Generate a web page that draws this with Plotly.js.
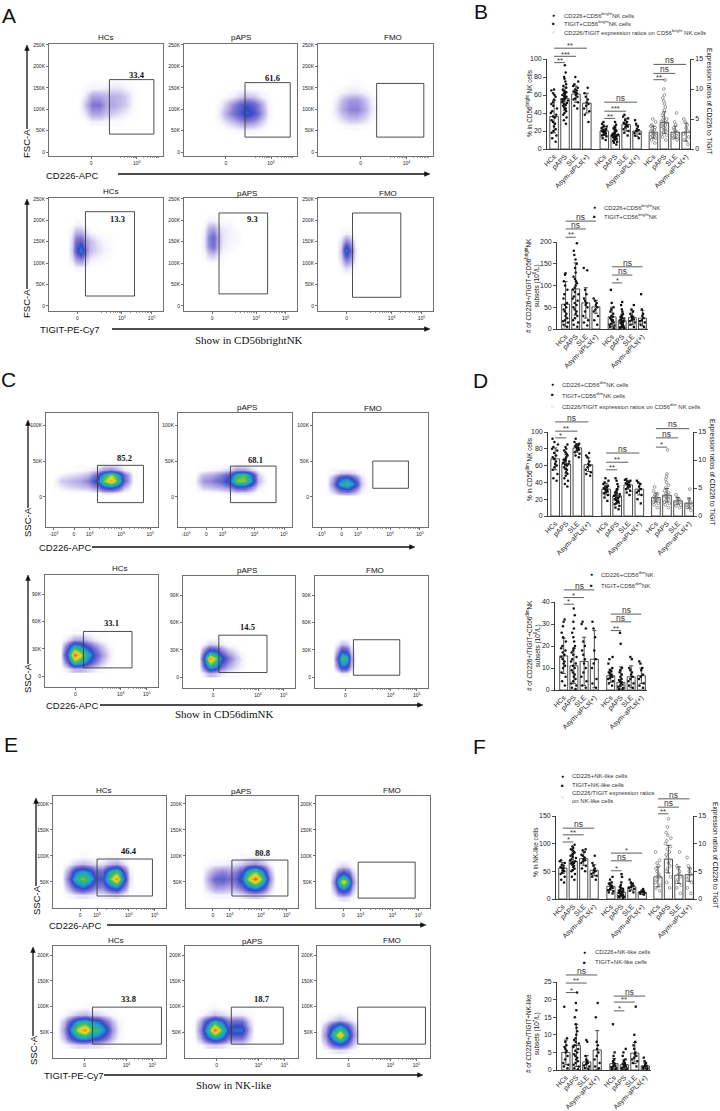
<!DOCTYPE html>
<html><head><meta charset="utf-8">
<script src="https://cdn.plot.ly/plotly-3.0.1.min.js"></script>
<style>html,body{margin:0;padding:0;background:#fff}#chart{width:720px;height:1111px}</style>
</head><body><div id="chart"></div>
<script>
// ===================== DATA =====================
const CAT = ['HCs','pAPS','SLE','Asym-aPLs(+)'];

// ---- Flow plots: density grids (x in display %, y in scatter units), gate [x0,x1,y0,y1], gate %
const A1_x=[26,32,38,44,50,56,62,68,74,80];
const A1_y=[70000,90000,110000,130000,150000,170000];
const A1_z=[[0,0,0.3,0.3,0.2,0.1,0.1,0,0,0],[0,0.5,1.5,1.5,1,0.8,0.6,0.3,0.1,0],[0,1,2.5,2.5,1.5,1.5,1.2,0.8,0.2,0],[0,0.5,1.5,1.5,1.2,1.3,1.2,0.8,0.2,0],[0,0.1,0.3,0.3,0.4,0.5,0.5,0.3,0.1,0],[0,0,0,0,0,0.1,0.1,0,0,0]];
const A1_gate=[53,92,42000,169000]; const A1_pct='33.4';

const A2_x=[26,32,38,44,50,56,62,68,74,80];
const A2_y=[50000,70000,90000,110000,130000,150000];
const A2_z=[[0,0,0,0.1,0.2,0.2,0.2,0.1,0,0],[0,0.2,0.6,1,1.5,1.8,1.5,0.8,0.2,0],[0,0.5,1.5,2.5,3.5,4.5,3.5,1.8,0.4,0],[0,0.3,1,2,3,3.5,2.8,1.5,0.3,0],[0,0,0.2,0.4,0.8,1,0.8,0.4,0.1,0],[0,0,0,0,0.1,0.1,0.1,0,0,0]];
const A2_gate=[54,94,35000,162000]; const A2_pct='61.6';

const A3_x=[10,16,22,28,34,40,46,52,58];
const A3_y=[60000,80000,100000,120000,140000,160000];
const A3_z=[[0,0,0.1,0.2,0.2,0.1,0,0,0],[0,0.3,0.8,1.2,1.2,0.8,0.3,0,0],[0,0.6,1.5,2.2,2.2,1.5,0.5,0.1,0],[0,0.4,1.2,1.8,1.8,1.2,0.4,0,0],[0,0.1,0.3,0.5,0.5,0.3,0.1,0,0],[0,0,0,0.1,0.1,0,0,0,0]];
const A3_gate=[51,92,35000,160000]; const A3_pct='';

const A4_x=[16,20,24,28,32,36,42,48,54,60];
const A4_y=[90000,110000,130000,150000,170000,190000,210000];
const A4_z=[[0,0,0.2,0.2,0.1,0,0,0,0,0],[0,0.5,1.5,2,1,0.4,0.2,0.1,0,0],[0,0.8,3,5,2,1,0.6,0.3,0.1,0],[0,0.7,2.5,3,1.5,1,0.5,0.2,0.1,0],[0,0.4,1.2,1.2,0.6,0.3,0.1,0,0,0],[0,0.1,0.3,0.3,0.1,0,0,0,0,0],[0,0,0,0,0,0,0,0,0,0]];
const A4_gate=[32,75,23000,220000]; const A4_pct='13.3';

const A5_x=[14,18,22,26,30,34,40,46,52];
const A5_y=[100000,120000,140000,160000,180000,200000,220000];
const A5_z=[[0,0,0,0.1,0.1,0,0,0,0],[0,0.2,0.8,1,0.5,0.2,0,0,0],[0,0.5,1.8,2.5,1.2,0.4,0.2,0.1,0],[0,0.5,2,2.8,1.3,0.5,0.3,0.2,0],[0,0.3,1.2,1.5,0.8,0.4,0.3,0.1,0],[0,0,0.3,0.3,0.2,0.1,0.1,0,0],[0,0,0,0,0,0,0,0,0]];
const A5_gate=[31,74,28000,217000]; const A5_pct='9.3';

const A6_x=[16,20,24,28,32,36];
const A6_y=[70000,90000,110000,130000,150000,170000,190000];
const A6_z=[[0,0,0,0,0,0],[0,0.2,0.6,0.4,0.1,0],[0,0.6,2,1.5,0.3,0],[0,0.8,4.5,2.5,0.4,0],[0,0.5,1.8,1.2,0.2,0],[0,0.1,0.3,0.2,0,0],[0,0,0,0,0,0]];
const A6_gate=[30,72,20000,217000]; const A6_pct='';

const C1_x=[6,14,22,30,38,46,52,58,64,70,78];
const C1_y=[6000,14000,22000,30000,38000,46000];
const C1_z=[[0,0,0,0,0,0.1,0.3,0.3,0.2,0,0],[0,0.3,0.5,0.6,0.8,1.5,3,3.5,2.5,0.8,0],[0,0.6,0.8,1,1.5,3,6.5,8.5,6,2,0.1],[0,0.2,0.4,0.5,0.8,2,5,7,5,1.8,0.1],[0,0,0,0.1,0.2,0.5,1.2,1.5,1,0.3,0],[0,0,0,0,0,0,0.1,0.1,0.1,0,0]];
const C1_gate=[46,87,-8000,44000]; const C1_pct='85.2';

const C2_x=[6,14,22,30,38,46,52,58,64,70,78];
const C2_y=[6000,14000,22000,30000,38000,46000];
const C2_z=[[0,0,0,0,0.1,0.2,0.3,0.3,0.2,0,0],[0,0,0.6,0.8,1,1.5,2.5,2.5,1.5,0.3,0],[0,0.1,1.2,1.5,2,3.5,6.5,6.5,4,0.8,0],[0,0,0.8,1,1.5,2.5,5.5,6,3.5,0.6,0],[0,0,0.1,0.2,0.3,0.6,1.2,1.2,0.6,0.1,0],[0,0,0,0,0,0,0.1,0.1,0,0,0]];
const C2_gate=[46,86,-8000,43000]; const C2_pct='68.1';

const C3_x=[12,18,24,30,36,42,48];
const C3_y=[2000,10000,18000,26000,34000,42000];
const C3_z=[[0,0,0.1,0.1,0.1,0,0],[0,0.8,2,2.5,1.5,0.3,0],[0,1.5,4.5,5.5,3.5,0.6,0],[0,1,3,3.5,2,0.4,0],[0,0.2,0.5,0.6,0.4,0.1,0],[0,0,0,0,0,0,0]];
const C3_gate=[52,83,12000,50000]; const C3_pct='';

const C4_x=[14,20,26,32,38,44,50,56,62];
const C4_y=[8000,16000,24000,32000,40000,48000];
const C4_z=[[0,0.3,0.8,0.8,0.5,0.3,0.1,0,0],[0,2,6,5,3,1.8,0.8,0.2,0],[0,3.5,9.5,7,4.5,2.5,1.2,0.4,0],[0,2,5,4,2.5,1.5,0.7,0.2,0],[0,0.4,1,1,0.6,0.3,0.1,0,0],[0,0,0.1,0.1,0.1,0,0,0,0]];
const C4_gate=[34,77,9000,49000]; const C4_pct='33.1';

const C5_x=[14,19,24,29,34,40,46,52,58];
const C5_y=[4000,12000,20000,28000,36000,44000];
const C5_z=[[0,0.3,0.8,0.6,0.3,0.1,0.1,0,0],[0,2,5,4,2,1,0.5,0.2,0],[0,3,9,6.5,3.5,1.8,0.8,0.3,0],[0,1.5,3.5,3,1.8,0.8,0.4,0.1,0],[0,0.2,0.6,0.5,0.3,0.1,0,0,0],[0,0,0,0,0,0,0,0,0]];
const C5_gate=[32,75,5000,46000]; const C5_pct='14.5';

const C6_x=[16,20,24,28,32,36];
const C6_y=[4000,12000,20000,28000,36000,44000];
const C6_z=[[0,0,0.2,0.2,0,0],[0,1.5,3.5,3,0.8,0],[0,2.5,6,5,1.2,0],[0,1.2,3,2.5,0.6,0],[0,0.3,0.8,0.6,0.2,0],[0,0,0,0,0,0]];
const C6_gate=[34,75,2000,41000]; const C6_pct='';

const E1_x=[8,14,20,26,32,38,44,50,56,62,68];
const E1_y=[25000,40000,55000,70000,85000,100000];
const E1_z=[[0,0.1,0.3,0.4,0.3,0.2,0.2,0.3,0.4,0.2,0],[0,1,2.5,3.5,2.5,1.5,1.5,3,4,2,0.2],[0,1.8,5,6.5,5,2.5,2.5,6,9,4,0.3],[0,1.2,3.5,4.5,3.5,2,2,4.5,6,3,0.2],[0,0.2,0.6,0.8,0.6,0.4,0.4,0.8,1,0.5,0],[0,0,0,0.1,0.1,0,0,0.1,0.1,0,0]];
const E1_gate=[39,88,23000,94000]; const E1_pct='46.4';

const E2_x=[14,20,26,32,38,44,50,56,62,68,74,80];
const E2_y=[25000,40000,55000,70000,85000,100000];
const E2_z=[[0,0.1,0.2,0.2,0.2,0.2,0.3,0.5,0.6,0.4,0.1,0],[0,0.6,1.2,1.2,1,1.2,2,3.5,4.5,3,0.8,0],[0,1,2,2.2,1.8,2,3.5,7,9.5,6,1.5,0],[0,0.6,1.2,1.5,1.2,1.5,2.5,5,6.5,4,1,0],[0,0.1,0.2,0.2,0.3,0.4,0.6,1,1.2,0.8,0.2,0],[0,0,0,0,0,0,0.1,0.1,0.2,0.1,0,0]];
const E2_gate=[41,91,23000,92000]; const E2_pct='80.8';

const E3_x=[12,16,20,24,28,32,36];
const E3_y=[20000,35000,50000,65000,80000,95000];
const E3_z=[[0,0.1,0.3,0.4,0.3,0.1,0],[0,0.8,2.5,3.5,2.5,0.8,0],[0,1.5,5,8,5,1.5,0],[0,0.8,2.5,3.5,2.5,0.8,0],[0,0.1,0.4,0.6,0.4,0.1,0],[0,0,0,0,0,0,0]];
const E3_gate=[37,87,19000,88000]; const E3_pct='';

const E4_x=[4,10,16,22,28,34,40,46,52,58,64];
const E4_y=[25000,40000,55000,70000,85000,100000];
const E4_z=[[0,0.1,0.3,0.5,0.5,0.4,0.4,0.2,0.1,0,0],[0,0.8,2.5,4,4.5,3.5,3,2,0.8,0.2,0],[0,1.2,4,7.5,9,6,5.5,3.5,1.2,0.3,0],[0,0.8,2.5,4.5,5,4,3.5,2,0.8,0.2,0],[0,0.1,0.4,0.7,0.8,0.6,0.5,0.3,0.1,0,0],[0,0,0,0,0.1,0.1,0,0,0,0,0]];
const E4_gate=[35,96,27000,99000]; const E4_pct='33.8';

const E5_x=[8,14,20,26,32,38,44,50,56,62];
const E5_y=[25000,40000,55000,70000,85000,100000];
const E5_z=[[0,0.1,0.4,0.5,0.4,0.2,0.2,0.2,0.1,0],[0,1,3,4.5,3.5,1.8,1.8,1.8,0.6,0],[0,1.5,5,9.5,6,3,3.5,3.5,1,0],[0,1,3,5,3.5,1.8,2,2,0.6,0],[0,0.1,0.4,0.7,0.5,0.3,0.3,0.3,0.1,0],[0,0,0,0.1,0,0,0,0,0,0]];
const E5_gate=[41,87,27000,99000]; const E5_pct='18.7';

const E6_x=[2,8,14,20,26,32,38];
const E6_y=[15000,30000,45000,60000,75000,90000];
const E6_z=[[0,0.1,0.3,0.4,0.3,0.1,0],[0,0.8,2.5,3.5,2.5,0.8,0],[0,1.5,5,8.5,5,1.5,0],[0,1,3,4.5,3,1,0],[0,0.2,0.5,0.8,0.5,0.2,0],[0,0,0,0.1,0,0,0]];
const E6_gate=[36,96,27000,99000]; const E6_pct='';

// ---- Bar charts: means, SDs, individual points, significance brackets [from,to,level,label]
const B1_mean=[36,56,61,51,20,16,27,20]; const B1_sd=[18,13,9,11,5,5,7,6];
const B1_rmean=[2.8,4.4,2.8,2.8]; const B1_rsd=[1,1.8,1,1.5];
const B1_CD226=[[8,12,15,18,20,22,25,28,30,32,35,36,38,40,42,45,48,50,52,55,58,60,62,65,66],[28,32,35,38,40,42,44,45,46,48,49,50,51,52,53,54,55,55,56,57,58,58,59,60,61,62,63,64,65,66,68,70,72,75,78,80,85,93],[45,48,52,55,56,58,60,62,63,64,65,66,68,70,72,75,80],[30,38,42,45,48,50,52,55,58,62,68]];
const B1_TIGIT=[[10,12,14,15,16,17,18,18,19,20,20,21,22,23,24,25,26,28,30],[5,7,8,9,10,11,12,12,13,13,14,14,15,15,16,16,17,17,18,19,20,21,22,23,24,25,27,30],[15,18,20,22,24,25,26,27,28,29,30,32,34,36,38],[12,15,17,18,20,21,22,25,28,32]];
const B1_RATIO=[[1,1.5,1.8,2,2.2,2.4,2.5,2.6,2.8,3,3.2,3.4,3.6,3.8,4,4.5,5],[1.5,2,2.3,2.5,2.8,3,3.2,3.4,3.6,3.8,4,4.2,4.4,4.6,4.8,5,5.3,5.6,6,6.5,7,7.5,8,8.5,9,10,11.5],[1.5,1.8,2,2.2,2.4,2.6,2.8,3,3.2,3.5,4,4.5,6],[0.8,1.5,2,2.5,2.8,3,3.5,4,4.5,5]];
const B1_sig=[[0,1,96,'**'],[0,2,103,'***'],[0,3,112,'**'],[4,5,34,'**'],[4,6,42,'***'],[4,7,52,'ns'],[8,9,77,'**'],[8,10,84,'ns'],[8,11,94,'ns']];
const B2_mean=[57,92,60,51,28,19,26,25]; const B2_sd=[52,60,35,15,22,15,16,18];
const B2_CD226=[[5,10,15,18,20,25,30,35,40,45,50,55,60,70,80,90,100,110,125,128],[5,10,15,20,25,30,35,40,45,50,55,60,65,70,75,80,85,90,95,100,105,110,115,120,130,140,150,160,170,180,197],[8,15,20,30,40,50,55,60,65,70,80,90,135,140],[10,20,30,40,45,50,55,60,65,70]];
const B2_TIGIT=[[2,5,8,10,12,15,18,20,22,25,28,30,35,40,45,50,60,90],[1,2,3,4,5,6,8,10,12,14,15,16,18,20,22,24,26,28,30,32,35,40,45,55,62],[5,10,15,18,20,22,25,28,30,35,40,45,55],[5,10,15,18,20,25,30,35,45,80]];
const B2_sig=[[0,1,211,'**'],[0,2,230,'ns'],[0,3,248,'ns'],[4,5,106,'*'],[4,6,124,'ns'],[4,7,143,'ns']];
const D1_mean=[68,62,81,61,32,24,37,32]; const D1_sd=[13,11,5,8,7,8,5,7];
const D1_rmean=[3.3,3.7,2.7,2.3]; const D1_rsd=[0.8,1.2,0.6,0.9];
const D1_CD226=[[42,45,50,55,58,60,62,65,68,70,72,75,78,80,82,85,88,92],[35,38,42,45,48,50,52,55,56,58,60,61,62,63,64,65,66,67,68,70,72,74,76,78,80,82,85],[70,72,74,76,78,79,80,81,82,83,84,85,86,88,92],[48,50,52,55,58,60,62,65,70,72,75]];
const D1_TIGIT=[[18,22,25,27,28,29,30,31,32,33,34,35,36,38,40,42,45],[8,10,12,14,15,16,17,18,19,20,21,22,23,24,25,26,27,28,30,32,35,38,42,45],[25,28,30,32,34,35,36,37,38,39,40,41,42,43,44],[15,20,25,28,30,32,35,38,40,42]];
const D1_RATIO=[[1.5,2,2.3,2.5,2.7,2.9,3,3.1,3.2,3.4,3.6,3.8,4,4.5,5.2],[1.5,2,2.3,2.5,2.8,3,3.2,3.4,3.5,3.6,3.8,4,4.2,4.5,5,5.5,6,6.5,7,7.5,11.8],[1.5,1.8,2,2.2,2.4,2.6,2.8,3,3.3,3.8],[1,1.5,1.8,2,2.2,2.5,3,4.8]];
const D1_sig=[[0,1,93,'*'],[0,2,101,'**'],[0,3,112,'ns'],[4,5,55,'**'],[4,6,64,'**'],[4,7,75,'ns'],[8,9,82,'*'],[8,10,93,'ns'],[8,11,104,'ns']];
const D2_mean=[15.5,11,13,14,6.5,3.5,6,6.5]; const D2_sd=[8,8,11,13,3,7,5,3.5];
const D2_CD226=[[2,4,6,8,10,11,12,13,14,15,16,17,18,19,20,22,24,26,29,31,32],[0.5,1,2,3,4,5,6,7,8,9,10,11,12,13,14,15,16,17,18,19,20,22,24,26,28,31,34,37],[1,2,4,6,8,10,12,14,16,18,20,22,28,30,31],[1,3,5,10,12,14,18,24,28,31]];
const D2_TIGIT=[[2,3,4,5,5.5,6,6.5,7,7.5,8,8.5,9,10,12,14,15],[0.3,0.5,1,1.5,2,2.5,3,3.5,4,4.5,5,6,7,8,9,10,21,26],[1,2,3,4,5,6,7,8,9,10,14,15],[1,2,3,5,6,7,9,10,12,13]];
const D2_sig=[[0,1,39,'*'],[0,2,42,'*'],[0,3,45.5,'ns'],[4,5,27,'**'],[4,6,31,'ns'],[4,7,34.5,'ns']];
const F1_mean=[56,68,73,52,23,12,22,12]; const F1_sd=[10,15,12,10,7,8,6,4];
const F1_rmean=[4,7.2,4.3,4.4]; const F1_rsd=[1.8,2.5,1.5,1.2];
const F1_CD226=[[30,35,40,45,48,50,52,55,56,58,60,62,65,68,70],[35,40,45,50,52,55,58,60,62,64,65,66,68,70,72,74,76,78,80,82,84,86,88,90,92,95,98],[50,55,60,65,68,70,72,75,78,80,85,88,90],[35,40,42,45,48,50,52,55,60,65,78]];
const F1_TIGIT=[[10,12,14,16,18,20,22,24,26,28,30,35,40],[2,3,4,5,6,7,8,9,10,11,12,13,14,15,16,18,20,22,25,30,40,45],[12,15,18,20,22,24,26,28,30,35],[8,10,11,12,13,14,15,18]];
const F1_RATIO=[[1.5,2,2.5,3,3.5,4,4.2,4.5,5,5.5,6,6.5,7,8.5],[2,3,4,5,5.5,6,6.5,7,7.5,8,8.5,9,9.5,10,10.5,11,11.5,12,13,14.5],[1,2,2.5,3,3.5,4,4.5,5,5.5,6,8.5],[1,2,3,3.5,4,4.5,5,5.5,6,7.5]];
const F1_sig=[[0,1,103,'*'],[0,2,116,'**'],[0,3,128,'ns'],[4,5,51,'*'],[4,6,69,'ns'],[4,7,83,'*'],[8,9,154,'**'],[8,10,166,'ns'],[8,11,181,'ns']];
const F2_mean=[5,7,2.3,5.7,1.8,1.5,4.8,1.2]; const F2_sd=[3.5,6,1.8,5.5,1.5,1.5,3,0.8];
const F2_CD226=[[0.5,1,1.5,2,3,4,5,5.5,6,6.5,7,8,9,18],[0.2,0.5,1,1.5,2,2.5,3,3.5,4,4.5,5,5.5,6,6.5,7,7.5,8,8.5,9,10,11,12,13,15,17,19,22],[0.3,0.6,1,1.3,1.6,2,2.3,2.6,3,4,8,8.5],[0.5,1,2,3,4,5,6,7,8,15,19]];
const F2_TIGIT=[[0.1,0.3,0.5,0.8,1,1.2,1.5,1.8,2,2.5,3,4,5,13],[0.1,0.2,0.4,0.6,0.8,1,1.2,1.4,1.6,1.8,2,2.5,3,4,5,6],[1,2,2.5,3,3.5,4,4.5,5,6,7,8,10,18],[0.2,0.4,0.6,0.8,1,1.2,1.5,2,2.5,3.5]];
const F2_sig=[[0,1,22,'*'],[0,2,24.7,'**'],[0,3,27,'ns'],[4,5,16.8,'*'],[4,6,19.3,'**'],[4,7,21,'ns']];

// ---- Tick labels
const SUP=(e)=>'10<sup>'+e+'</sup>';
const XT_Atop={v:[37,77],t:['0',SUP(4)],b:[57,77,97]};
const XT_Abot={v:[25,64,90],t:['0',SUP(4),SUP(5)],b:[38,64,90]};
const XT_Ctop={v:[7,25,39,67,93],t:['-'+SUP(3),'0',SUP(3),SUP(4),SUP(5)],b:[39,67,93]};
const XT_Cbot={v:[27,67,90],t:['0',SUP(4),SUP(5)],b:[44,67,90]};
const XT_Etop={v:[24,39,67,90],t:['0',SUP(3),SUP(4),SUP(5)],b:[39,67,90]};
const XT_Ebot={v:[28,65,88],t:['0',SUP(4),SUP(5)],b:[42,65,88]};
const YT_A={v:[0,50000,100000,150000,200000,250000],t:['0','50K','100K','150K','200K','250K']};
const YT_Ctop={v:[0,50000,100000],t:['0','50K','100K']};
const YT_Cbot={v:[0,30000,60000,90000],t:['0','30K','60K','90K']};
const YT_E={v:[50000,100000,150000,200000],t:['50K','100K','150K','200K']};

// ===================== DRAWING =====================
const W=720,H=1111;
const FONT='Liberation Sans, Arial, sans-serif';
const SERIF='Liberation Serif, Times New Roman, serif';
const traces=[],shapes=[],ann=[];
const layout={width:W,height:H,margin:{l:0,r:0,t:0,b:0,pad:0},paper_bgcolor:'#fff',plot_bgcolor:'#fff',
  showlegend:false,barmode:'overlay',boxmode:'overlay',font:{family:FONT,color:'#111'}};

const PX=x=>x/W, PY=y=>1-y/H;
function txt(x,y,text,size,opt){
  ann.push(Object.assign({xref:'paper',yref:'paper',x:PX(x),y:PY(y),text:text,showarrow:false,
    xanchor:'center',yanchor:'middle',font:{family:FONT,size:size,color:'#111'}},opt||{}));
}
function arrowV(x,yBot,yTop){
  shapes.push({type:'line',xref:'paper',yref:'paper',x0:PX(x),x1:PX(x),y0:PY(yBot),y1:PY(yTop+4),line:{color:'#111',width:1.3}});
  shapes.push({type:'path',xref:'paper',yref:'paper',path:'M'+PX(x-2.3)+','+PY(yTop+5.5)+' L'+PX(x)+','+PY(yTop)+' L'+PX(x+2.3)+','+PY(yTop+5.5)+' Z',
    fillcolor:'#111',line:{color:'#111',width:0.5}});
}
function arrowH(y,xL,xR){
  shapes.push({type:'line',xref:'paper',yref:'paper',x0:PX(xL),x1:PX(xR-4),y0:PY(y),y1:PY(y),line:{color:'#111',width:1.3}});
  shapes.push({type:'path',xref:'paper',yref:'paper',path:'M'+PX(xR-5.5)+','+PY(y-2.3)+' L'+PX(xR)+','+PY(y)+' L'+PX(xR-5.5)+','+PY(y+2.3)+' Z',
    fillcolor:'#111',line:{color:'#111',width:0.5}});
}
function minorTicks(b){
  const out=[];
  for(let i=0;i<b.length-1;i++){const a=b[i],c=b[i+1];for(let k=2;k<10;k++)out.push(a+(c-a)*Math.log10(k));}
  return out;
}
const FLOW_CS=[[0,'rgb(255,255,255)'],[0.02,'rgb(246,244,252)'],[0.07,'rgb(200,192,236)'],[0.16,'rgb(130,118,212)'],
  [0.28,'rgb(50,72,200)'],[0.42,'rgb(30,160,215)'],[0.58,'rgb(60,190,90)'],[0.75,'rgb(235,222,40)'],[0.9,'rgb(242,125,30)'],[1,'rgb(225,30,20)']];

let axN=0;
function flowPlot(L,D){
  axN++; const k=axN, xid='x'+k, yid='y'+k;
  const [l,t,r,b]=L.box;
  const tickBase={showline:true,mirror:true,linecolor:'#707070',linewidth:1,ticks:'outside',ticklen:2,tickwidth:0.7,
    tickcolor:'#333',tickfont:{size:5,color:'#222',family:FONT},showgrid:false,zeroline:false,fixedrange:true};
  layout['xaxis'+k]=Object.assign({domain:[l/W,r/W],range:[0,100],anchor:yid,tickmode:'array',tickvals:L.xt.v,ticktext:L.xt.t,
    minor:{tickmode:'array',tickvals:minorTicks(L.xt.b),ticks:'outside',ticklen:1.4,tickwidth:0.5,tickcolor:'#333'}},tickBase);
  layout['yaxis'+k]=Object.assign({domain:[1-b/H,1-t/H],range:L.yr,anchor:xid,tickmode:'array',tickvals:L.yt.v,ticktext:L.yt.t},tickBase);
  traces.push({type:'heatmap',x:D[0],y:D[1],z:D[2],zsmooth:'best',colorscale:FLOW_CS,zmin:0,zmax:L.zmax||10,showscale:false,
    hoverinfo:'skip',xaxis:xid,yaxis:yid});
  const g=D[3];
  shapes.push({type:'rect',xref:xid,yref:yid,x0:g[0],x1:g[1],y0:g[2],y1:g[3],line:{color:'#3a3a3a',width:0.9}});
  if(D[4]) ann.push({xref:xid,yref:yid,x:L.lp[0],y:L.lp[1],text:'<b>'+D[4]+'</b>',showarrow:false,
    font:{family:SERIF,size:8.5,color:'#111'}});
  if(L.title) txt(L.tp[0],L.tp[1],L.title,8);
}

const FL=[
 [{box:[49,44,163,156],yr:[-9000,252000],zmax:15,xt:XT_Atop,yt:YT_A,title:'HCs',tp:[106,37],lp:[77,180000]},[A1_x,A1_y,A1_z,A1_gate,A1_pct]],
 [{box:[184,44,297,156],yr:[-9000,252000],zmax:14,xt:XT_Atop,yt:YT_A,title:'pAPS',tp:[241,37],lp:[78,173000]},[A2_x,A2_y,A2_z,A2_gate,A2_pct]],
 [{box:[318,44,433,156],yr:[-9000,252000],zmax:15,xt:XT_Atop,yt:YT_A,title:'FMO',tp:[393,38]},[A3_x,A3_y,A3_z,A3_gate,A3_pct]],
 [{box:[49,198,163,311],yr:[-12000,252000],zmax:13,xt:XT_Abot,yt:YT_A,title:'HCs',tp:[111,192],lp:[60,203000]},[A4_x,A4_y,A4_z,A4_gate,A4_pct]],
 [{box:[184,198,297,311],yr:[-12000,252000],zmax:14,xt:XT_Abot,yt:YT_A,title:'pAPS',tp:[247,193],lp:[61,203000]},[A5_x,A5_y,A5_z,A5_gate,A5_pct]],
 [{box:[318,198,433,311],yr:[-12000,252000],zmax:12,xt:XT_Abot,yt:YT_A,title:'FMO',tp:[388,193]},[A6_x,A6_y,A6_z,A6_gate,A6_pct]],
 [{box:[46,413,158,527],yr:[-42000,117000],xt:XT_Ctop,yt:YT_Ctop,title:'',lp:[70,54000]},[C1_x,C1_y,C1_z,C1_gate,C1_pct]],
 [{box:[178,413,292,527],yr:[-42000,117000],xt:XT_Ctop,yt:YT_Ctop,title:'pAPS',tp:[247,407],lp:[68,51000]},[C2_x,C2_y,C2_z,C2_gate,C2_pct]],
 [{box:[313,413,428,527],yr:[-42000,117000],xt:XT_Ctop,yt:YT_Ctop,title:'FMO',tp:[373,408]},[C3_x,C3_y,C3_z,C3_gate,C3_pct]],
 [{box:[45,575,158,687],yr:[-12000,111000],xt:XT_Cbot,yt:YT_Cbot,title:'HCs',tp:[120,568],lp:[59,58000]},[C4_x,C4_y,C4_z,C4_gate,C4_pct]],
 [{box:[183,576,295,688],yr:[-12000,111000],xt:XT_Cbot,yt:YT_Cbot,title:'pAPS',tp:[247,570],lp:[58,55000]},[C5_x,C5_y,C5_z,C5_gate,C5_pct]],
 [{box:[315,576,428,688],yr:[-12000,111000],xt:XT_Cbot,yt:YT_Cbot,title:'FMO',tp:[375,570]},[C6_x,C6_y,C6_z,C6_gate,C6_pct]],
 [{box:[53,796,166,908],yr:[0,215000],xt:XT_Etop,yt:YT_E,title:'HCs',tp:[104,790],lp:[67,110000]},[E1_x,E1_y,E1_z,E1_gate,E1_pct]],
 [{box:[186,796,298,908],yr:[0,215000],xt:XT_Etop,yt:YT_E,title:'pAPS',tp:[241,791],lp:[68,105000]},[E2_x,E2_y,E2_z,E2_gate,E2_pct]],
 [{box:[316,796,430,908],yr:[0,215000],xt:XT_Etop,yt:YT_E,title:'FMO',tp:[392,790]},[E3_x,E3_y,E3_z,E3_gate,E3_pct]],
 [{box:[53,946,166,1058],yr:[0,218000],xt:XT_Ebot,yt:YT_E,title:'HCs',tp:[116,940],lp:[67,114000]},[E4_x,E4_y,E4_z,E4_gate,E4_pct]],
 [{box:[185,946,298,1058],yr:[0,218000],xt:XT_Ebot,yt:YT_E,title:'pAPS',tp:[252,941],lp:[68,114000]},[E5_x,E5_y,E5_z,E5_gate,E5_pct]],
 [{box:[317,946,430,1058],yr:[0,218000],xt:XT_Ebot,yt:YT_E,title:'FMO',tp:[392,940]},[E6_x,E6_y,E6_z,E6_gate,E6_pct]]
];
FL.forEach(f=>flowPlot(f[0],f[1]));

// flow axis captions and arrows
function vLabel(x,y,t){txt(x,y,t,9.5,{textangle:-90});}
vLabel(26,143,'FSC-A'); arrowV(27,129,45);
txt(72,175,'CD226-APC',9.5); arrowH(174,118,430);
vLabel(26,303,'FSC-A'); arrowV(27,289,199);
txt(70,329,'TIGIT-PE-Cy7',9.5); arrowH(329,112,430);
txt(249,340,'Show in CD56brightNK',11,{font:{family:SERIF,size:11,color:'#111'}});
vLabel(27,522,'SSC-A'); arrowV(28,508,420);
txt(65,547,'CD226-APC',9.5); arrowH(547,92,415);
vLabel(27,678,'SSC-A'); arrowV(28,664,575);
txt(72,705,'CD226-APC',9.5); arrowH(705,100,423);
txt(224,714,'Show in CD56dimNK',11,{font:{family:SERIF,size:11,color:'#111'}});
vLabel(36,900,'SSC-A'); arrowV(36,886,798);
txt(75,925,'CD226-APC',9.5); arrowH(925,107,426);
vLabel(33,1050,'SSC-A'); arrowV(33,1036,947);
txt(74,1075,'TIGIT-PE-Cy7',9.5); arrowH(1075,104,423);
txt(233,1085,'Show in NK-like',11,{font:{family:SERIF,size:11,color:'#111'}});

// panel letters
[['A',9,15],['B',481,11],['C',8,379],['D',481,380],['E',11,744],['F',479,746]].forEach(p=>txt(p[1],p[2],p[0],21));

// ---------- bar charts ----------
const POS3=[0,1,2,3,4.6,5.6,6.6,7.6,9.1,10.1,11.1,12.1];
const POS2=[0,1,2,3,4.6,5.6,6.6,7.6];
function barChart(C){
  axN++; const k=axN, xid='x'+k, yid='y'+k;
  const xd=[C.xpx[0]/W,C.xpx[1]/W], yd=[1-C.ypx[1]/H,1-C.ypx[0]/H];
  const tf={size:7,color:'#222',family:FONT};
  layout['xaxis'+k]={domain:xd,range:C.xr,anchor:yid,showline:true,linecolor:'#222',linewidth:0.9,ticks:'',
    tickmode:'array',tickvals:C.pos,ticktext:C.pos.map((p,i)=>CAT[i%4]),tickangle:-45,
    tickfont:{size:7,color:'#222',family:FONT},showgrid:false,zeroline:false,fixedrange:true};
  layout['yaxis'+k]={domain:yd,range:[0,C.top],anchor:xid,showline:true,linecolor:'#222',linewidth:0.9,ticks:'outside',
    ticklen:3,tickwidth:0.8,tickcolor:'#222',tickmode:'array',tickvals:C.yt,tickfont:tf,showgrid:false,zeroline:false,fixedrange:true};
  traces.push({type:'bar',x:C.pos.slice(0,8),y:C.mean,width:0.78,marker:{color:'#fff',line:{color:'#222',width:0.8}},
    error_y:{type:'data',array:C.sd,visible:true,color:'#222',thickness:0.8,width:2},xaxis:xid,yaxis:yid,hoverinfo:'skip'});
  const groups=[[C.g1,'circle',2.5,'#111'],[C.g2,'square',2.3,'#111']];
  groups.forEach((g,gi)=>g[0].forEach((vals,i)=>{
    traces.push({type:'box',x0:C.pos[gi*4+i],y:vals,boxpoints:'all',jitter:0.85,pointpos:0,width:0.72,
      fillcolor:'rgba(0,0,0,0)',line:{color:'rgba(0,0,0,0)',width:0},marker:{size:g[2],color:g[3],symbol:g[1]},
      hoverinfo:'skip',xaxis:xid,yaxis:yid});
  }));
  if(C.rmean){
    const ry='y'+(k+40);
    layout['yaxis'+(k+40)]={overlaying:yid,side:'right',anchor:xid,range:[0,C.rtop],showline:true,linecolor:'#222',linewidth:0.9,
      ticks:'outside',ticklen:3,tickwidth:0.8,tickcolor:'#222',tickmode:'array',tickvals:[0,5,10,15],tickfont:tf,
      showgrid:false,zeroline:false,fixedrange:true};
    traces.push({type:'bar',x:C.pos.slice(8,12),y:C.rmean,width:0.78,marker:{color:'#fff',line:{color:'#222',width:0.8}},
      error_y:{type:'data',array:C.rsd,visible:true,color:'#222',thickness:0.8,width:2},xaxis:xid,yaxis:ry,hoverinfo:'skip'});
    C.g3.forEach((vals,i)=>{
      traces.push({type:'box',x0:C.pos[8+i],y:vals,boxpoints:'all',jitter:0.85,pointpos:0,width:0.72,
        fillcolor:'rgba(0,0,0,0)',line:{color:'rgba(0,0,0,0)',width:0},
        marker:{size:2.8,color:'#777',symbol:'circle-open',line:{width:0.7,color:'#777'}},hoverinfo:'skip',xaxis:xid,yaxis:ry});
    });
  }
  const toPX=v=>C.xpx[0]+(v-C.xr[0])/(C.xr[1]-C.xr[0])*(C.xpx[1]-C.xpx[0]);
  const toPY=v=>C.ypx[1]-v/C.top*(C.ypx[1]-C.ypx[0]);
  C.sig.forEach(s=>{
    const x0=toPX(C.pos[s[0]]),x1=toPX(C.pos[s[1]]),y=toPY(s[2]);
    shapes.push({type:'line',xref:'paper',yref:'paper',x0:x0/W,x1:x1/W,y0:PY(y),y1:PY(y),line:{color:'#333',width:0.8}});
    const ns=s[3]==='ns';
    ann.push({xref:'paper',yref:'paper',x:(x0+x1)/2/W,y:PY(y+(ns?1.8:3.2)),text:s[3],showarrow:false,yanchor:'bottom',
      xanchor:'center',borderpad:0,font:{family:FONT,size:ns?8.5:7.5,color:'#333'}});
  });
  txt(C.lt[1],C.lt[2],C.lt[0],6.4,{textangle:-90});
  if(C.rt) txt(C.rt[0],C.rt[1],'Expression ratios of CD226 to TIGIT',6.6,{textangle:90});
  const glyph=['●','■','○'], gcol=['#111','#111','#777'];
  C.leg.forEach((it,i)=>{
    txt(C.legx[0],it[1],glyph[i],5,{font:{family:FONT,size:i==1?4.5:5,color:gcol[i]}});
    txt(C.legx[1],it[1],it[0],6,{xanchor:'left',align:'left',font:{family:FONT,size:6,color:'#333'}});
  });
}

barChart({xpx:[547,690],ypx:[59,149],top:100,rtop:15,pos:POS3,xr:[-0.65,12.45],yt:[0,20,40,60,80,100],
  mean:B1_mean,sd:B1_sd,rmean:B1_rmean,rsd:B1_rsd,g1:B1_CD226,g2:B1_TIGIT,g3:B1_RATIO,sig:B1_sig,
  lt:['% in CD56<sup>bright</sup> NK cells',529,104],rt:[709,101],legx:[553,562],
  leg:[['CD226+CD56<sup>bright</sup>NK cells',15],['TIGIT+CD56<sup>bright</sup>NK cells',23],['CD226/TIGIT expression ratios on CD56<sup>bright</sup> NK cells',32]]});
barChart({xpx:[557,648],ypx:[242,329],top:200,pos:POS2,xr:[-0.85,8.15],yt:[0,50,100,150,200],
  mean:B2_mean,sd:B2_sd,g1:B2_CD226,g2:B2_TIGIT,sig:B2_sig,
  lt:['# of CD226+/TIGIT+CD56<sup>bright</sup>NK<br>subsets (10<sup>6</sup>/L)',532,286],legx:[594,602],
  leg:[['CD226+CD56<sup>bright</sup>NK',207],['TIGIT+CD56<sup>bright</sup>NK',216]]});
barChart({xpx:[548,693],ypx:[432,516],top:100,rtop:15,pos:POS3,xr:[-0.65,12.45],yt:[0,20,40,60,80,100],
  mean:D1_mean,sd:D1_sd,rmean:D1_rmean,rsd:D1_rsd,g1:D1_CD226,g2:D1_TIGIT,g3:D1_RATIO,sig:D1_sig,
  lt:['% in CD56<sup>dim</sup> NK cells',529,470],rt:[712,472],legx:[552,560],
  leg:[['CD226+CD56<sup>dim</sup>NK cells',384],['TIGIT+CD56<sup>dim</sup>NK cells',395],['CD226/TIGIT expression ratios on CD56<sup>dim</sup> NK cells',406]]});
barChart({xpx:[555,647],ypx:[602,690],top:40,pos:POS2,xr:[-0.85,8.15],yt:[0,10,20,30,40],
  mean:D2_mean,sd:D2_sd,g1:D2_CD226,g2:D2_TIGIT,sig:D2_sig,
  lt:['# of CD226+/TIGIT+CD56<sup>dim</sup>NK<br>subsets (10<sup>6</sup>/L)',533,646],legx:[591,599],
  leg:[['CD226+CD56<sup>dim</sup>NK',574],['TIGIT+CD56<sup>dim</sup>NK',585]]});
barChart({xpx:[556,693],ypx:[816,899],top:150,rtop:15,pos:POS3,xr:[-0.65,12.45],yt:[0,50,100,150],
  mean:F1_mean,sd:F1_sd,rmean:F1_rmean,rsd:F1_rsd,g1:F1_CD226,g2:F1_TIGIT,g3:F1_RATIO,sig:F1_sig,
  lt:['% in NK-like cells',535,853],rt:[715,855],legx:[562,570],
  leg:[['CD226+NK-like cells',776],['TIGIT+NK-like cells',785],['CD226/TIGIT expression ratios<br>on NK-like cells',797]]});
barChart({xpx:[557,651],ypx:[982,1070],top:25,pos:POS2,xr:[-0.85,8.15],yt:[0,5,10,15,20,25],
  mean:F2_mean,sd:F2_sd,g1:F2_CD226,g2:F2_TIGIT,sig:F2_sig,
  lt:['# of CD226+/TIGIT+NK-like<br>subsets (10<sup>7</sup>/L)',533,1034],legx:[584,593],
  leg:[['CD226+NK-like cells',952],['TIGIT+NK-like cells',962]]});

layout.shapes=shapes; layout.annotations=ann;
Plotly.newPlot('chart',traces,layout,{staticPlot:true,displayModeBar:false});
</script></body></html>
